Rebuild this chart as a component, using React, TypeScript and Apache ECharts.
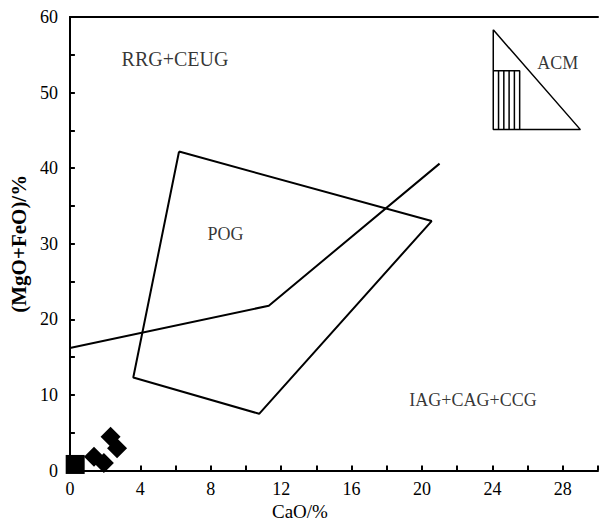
import React, { useEffect, useRef } from "react";
import * as echarts from "echarts";

const FONT = "'Liberation Serif', 'Times New Roman', serif";

// Tectonic discrimination diagram: CaO vs (MgO+FeO)
const xTicks = [0, 4, 8, 12, 16, 20, 24, 28];
const yTicks = [0, 10, 20, 30, 40, 50, 60];

const pogPolygon: [number, number][] = [
  [6.2, 42.2],
  [20.55, 33.0],
  [10.75, 7.5],
  [3.6, 12.3],
  [6.2, 42.2],
];

const boundaryLine: [number, number][] = [
  [0, 16.2],
  [11.3, 21.8],
  [21.0, 40.6],
];

// ACM inset triangle
const acmTriangle: [number, number][] = [
  [24.05, 58.3],
  [24.05, 45.1],
  [29.0, 45.1],
  [24.05, 58.3],
];
const acmBox: [number, number][] = [
  [24.05, 52.9],
  [25.55, 52.9],
  [25.55, 45.1],
];
const acmHatchX = [24.35, 24.65, 24.95, 25.25];
const acmHatchY: [number, number] = [45.1, 52.9];

// samples
const squarePoints: [number, number][] = [[0.3, 0.8]];
const diamondPoints: [number, number][] = [
  [1.37, 1.83],
  [1.93, 1.0],
  [2.31, 4.45],
  [2.68, 2.95],
];

const fieldLabels = [
  { name: "RRG+CEUG", value: [5.97, 54.5], size: 20 },
  { name: "POG", value: [8.84, 31.3], size: 18 },
  { name: "IAG+CAG+CCG", value: [22.9, 9.3], size: 18 },
  { name: "ACM", value: [27.72, 53.9], size: 18 },
];

const lineSeries = (data: any[], width = 2) => ({
  type: "line",
  data,
  symbol: "none",
  silent: true,
  clip: false,
  lineStyle: { color: "#000", width },
  z: 3,
});

export default function App() {
  const ref = useRef<HTMLDivElement>(null);
  useEffect(() => {
    if (!ref.current) return;
    const chart = echarts.init(ref.current, null, { renderer: "svg" });
    const axisLine = { show: true, lineStyle: { color: "#000", width: 2 } };
    const option: any = {
      animation: false,
      backgroundColor: "#fff",
      grid: { left: 69, right: 0, top: 17, bottom: 57.5 },
      xAxis: [
        {
          type: "value",
          min: 0,
          max: 30,
          interval: 2,
          position: "bottom",
          axisLine,
          axisTick: { show: true, inside: true, length: 5, lineStyle: { color: "#000", width: 2 } },
          axisLabel: {
            color: "#000",
            fontFamily: FONT,
            fontSize: 18,
            margin: 9,
            formatter: (v: number) => (xTicks.includes(v) ? String(v) : ""),
          },
          splitLine: { show: false },
          name: "CaO/%",
          nameLocation: "middle",
          nameGap: 27,
          nameTextStyle: {
            color: "#000",
            fontFamily: FONT,
            fontSize: 19,
            padding: [0, 68, 0, 0],
          },
        },
        {
          type: "value",
          min: 0,
          max: 30,
          position: "top",
          axisLine,
          axisTick: { show: false },
          axisLabel: { show: false },
          splitLine: { show: false },
        },
      ],
      yAxis: {
        type: "value",
        min: 0,
        max: 60,
        interval: 5,
        axisLine,
        axisTick: { show: true, inside: true, length: 5, lineStyle: { color: "#000", width: 2 } },
        axisLabel: {
          color: "#000",
          fontFamily: FONT,
          fontSize: 18,
          margin: 12,
          formatter: (v: number) => (yTicks.includes(v) ? String(v) : ""),
        },
        splitLine: { show: false },
        name: "(MgO+FeO)/%",
        nameLocation: "middle",
        nameRotate: 90,
        nameGap: 40,
        nameTextStyle: { color: "#000", fontFamily: FONT, fontSize: 21, fontWeight: "bold" },
      },
      series: [
        lineSeries(pogPolygon),
        lineSeries(boundaryLine),
        lineSeries(acmTriangle, 1.5),
        lineSeries(acmBox, 1.5),
        ...acmHatchX.map((x) =>
          lineSeries(
            acmHatchY.map((y) => [x, y]),
            1.5
          )
        ),
        {
          type: "scatter",
          data: squarePoints,
          symbol: "rect",
          symbolSize: 19,
          itemStyle: { color: "#000", opacity: 1 },
          clip: false,
          z: 5,
        },
        {
          type: "scatter",
          data: diamondPoints,
          symbol: "diamond",
          symbolSize: 20,
          itemStyle: { color: "#000", opacity: 1 },
          clip: false,
          z: 5,
        },
        {
          type: "scatter",
          data: fieldLabels.map((d) => ({
            name: d.name,
            value: d.value,
            label: { fontSize: d.size },
          })),
          symbolSize: 0,
          silent: true,
          label: {
            show: true,
            position: "inside",
            formatter: "{b}",
            color: "#000",
            fontFamily: FONT,
            fontSize: 18,
          },
        },
      ],
    };
    chart.setOption(option);
    return () => chart.dispose();
  }, []);
  return (
    <div
      ref={ref}
      style={{ position: "fixed", left: 0, top: 0, width: 601, height: 528, background: "#fff" }}
    />
  );
}
